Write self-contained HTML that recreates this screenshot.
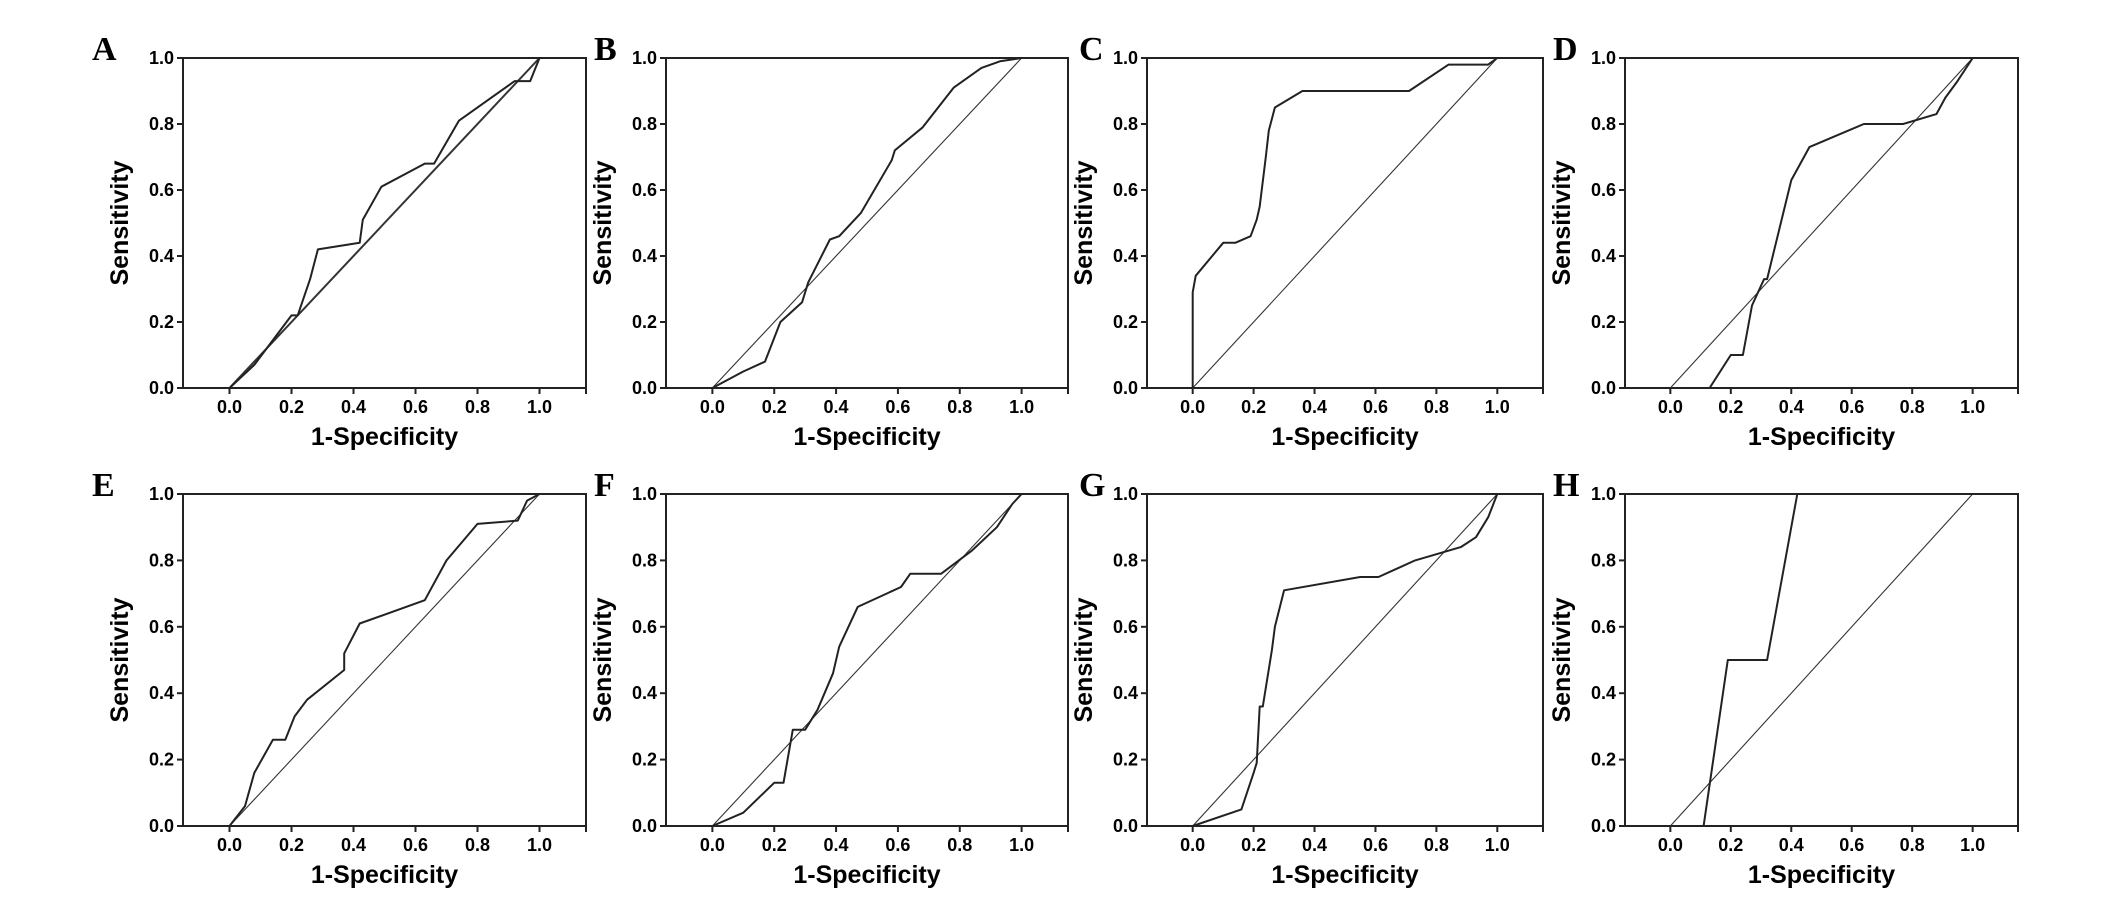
<!DOCTYPE html>
<html><head><meta charset="utf-8"><style>
html,body{margin:0;padding:0;background:#fff;}
svg{display:block;}
</style></head><body>
<svg id="fig" width="2126" height="899" xmlns="http://www.w3.org/2000/svg"></svg>
<script>
const panelLetters = ["A","B","C","D","E","F","G","H"];
const curveA = [[0,0],[0.08,0.07],[0.2,0.22],[0.22,0.22],[0.26,0.33],[0.285,0.42],[0.42,0.44],[0.43,0.51],[0.49,0.61],[0.63,0.68],[0.66,0.68],[0.74,0.81],[0.92,0.93],[0.97,0.93],[1,1]];
const curveB = [[0,0],[0.1,0.05],[0.17,0.08],[0.22,0.2],[0.29,0.26],[0.31,0.32],[0.38,0.45],[0.41,0.46],[0.48,0.53],[0.58,0.69],[0.59,0.72],[0.68,0.79],[0.78,0.91],[0.87,0.97],[0.93,0.99],[1,1]];
const curveC = [[0,0],[0,0.29],[0.01,0.34],[0.1,0.44],[0.14,0.44],[0.19,0.46],[0.21,0.51],[0.22,0.55],[0.24,0.70],[0.25,0.78],[0.27,0.85],[0.36,0.90],[0.71,0.90],[0.84,0.98],[0.97,0.98],[1,1]];
const curveD = [[0.13,0],[0.2,0.1],[0.24,0.1],[0.27,0.25],[0.31,0.33],[0.32,0.33],[0.40,0.63],[0.46,0.73],[0.64,0.80],[0.77,0.80],[0.88,0.83],[0.91,0.88],[0.95,0.93],[1,1]];
const curveE = [[0,0],[0.05,0.06],[0.08,0.16],[0.14,0.26],[0.18,0.26],[0.21,0.33],[0.25,0.38],[0.37,0.47],[0.37,0.52],[0.42,0.61],[0.63,0.68],[0.70,0.80],[0.80,0.91],[0.93,0.92],[0.96,0.98],[1,1]];
const curveF = [[0,0],[0.1,0.04],[0.2,0.13],[0.23,0.13],[0.26,0.29],[0.30,0.29],[0.34,0.35],[0.39,0.46],[0.41,0.54],[0.47,0.66],[0.61,0.72],[0.64,0.76],[0.74,0.76],[0.84,0.83],[0.92,0.90],[0.97,0.97],[1,1]];
const curveG = [[0,0],[0.16,0.05],[0.20,0.16],[0.21,0.19],[0.22,0.36],[0.23,0.36],[0.26,0.53],[0.27,0.60],[0.30,0.71],[0.55,0.75],[0.61,0.75],[0.73,0.80],[0.88,0.84],[0.93,0.87],[0.97,0.93],[1,1]];
const curveH = [[0.11,0],[0.19,0.5],[0.32,0.5],[0.42,1],[1,1]];
const curves = [curveA,curveB,curveC,curveD,curveE,curveF,curveG,curveH];
const xTicks = [0,0.2,0.4,0.6,0.8,1.0];
const yTicks = [0,0.2,0.4,0.6,0.8,1.0];
const xTickLabels = ["0.0","0.2","0.4","0.6","0.8","1.0"];
const yTickLabels = ["0.0","0.2","0.4","0.6","0.8","1.0"];

const NS="http://www.w3.org/2000/svg";
const svg=document.getElementById('fig');
function mk(tag,attrs,parent){const e=document.createElementNS(NS,tag);for(const k in attrs)e.setAttribute(k,attrs[k]);(parent||svg).appendChild(e);return e;}
const colL=[183,666,1147,1625];
const colR=[586,1068,1543,2018];
const labOff=[91,72,68,72];
const rowT=[58,494];
const rowB=[388,826];
const XMIN=-0.15,XMAX=1.15;
for(let p=0;p<8;p++){
  const c=p%4,r=Math.floor(p/4);
  const L=colL[c],R=colR[c],T=rowT[r],B=rowB[r];
  const sx=v=>L+(v-XMIN)/(XMAX-XMIN)*(R-L);
  const sy=v=>B-v*(B-T);
  const g=mk('g',{});
  
  
  const lab=mk('text',{x:L-labOff[c],y:T+2,'font-family':'Liberation Serif, serif','font-weight':'bold','font-size':34},g);
  lab.textContent=panelLetters[p];
  
  
  const frame=mk('rect',{x:L,y:T,width:R-L,height:B-T,fill:'none',stroke:'#222','stroke-width':2},g);
  
  
  for(let i=0;i<yTicks.length;i++){
    const y=sy(yTicks[i]);
    mk('line',{x1:L-6,x2:L,y1:y,y2:y,stroke:'#222','stroke-width':2},g);
    const t=mk('text',{x:L-9,y:y+6,'text-anchor':'end','font-family':'Liberation Sans, sans-serif','font-weight':'bold','font-size':18},g);
    t.textContent=yTickLabels[i];
    
    
  }
  for(let i=0;i<xTicks.length;i++){
    const x=sx(xTicks[i]);
    mk('line',{x1:x,x2:x,y1:B,y2:B+6,stroke:'#222','stroke-width':2},g);
    const t=mk('text',{x:x,y:B+25,'text-anchor':'middle','font-family':'Liberation Sans, sans-serif','font-weight':'bold','font-size':18},g);
    t.textContent=xTickLabels[i];
    
    
  }
  mk('line',{x1:R,x2:R,y1:B,y2:B+6,stroke:'#222','stroke-width':2},g);
  const xt=mk('text',{x:(L+R)/2,y:B+57,'text-anchor':'middle','font-family':'Liberation Sans, sans-serif','font-weight':'bold','font-size':25},g);
  xt.textContent='1-Specificity';
  
  
  const yc=(T+B)/2, xx=L-55;
  const yt=mk('text',{x:xx,y:yc,'text-anchor':'middle','font-family':'Liberation Sans, sans-serif','font-weight':'bold','font-size':25,transform:'rotate(-90 '+xx+' '+yc+')'},g);
  yt.textContent='Sensitivity';
  
  
  const diag=mk('line',{x1:sx(0),y1:sy(0),x2:sx(1),y2:sy(1),stroke:'#333','stroke-width':p===0?2:1.1},g);
  
  
  const pts=curves[p].map(d=>sx(d[0]).toFixed(1)+','+sy(d[1]).toFixed(1)).join(' ');
  const pl=mk('polyline',{points:pts,fill:'none',stroke:'#222','stroke-width':2,'stroke-linejoin':'round'},g);
  
  
}
</script>
</body></html>
